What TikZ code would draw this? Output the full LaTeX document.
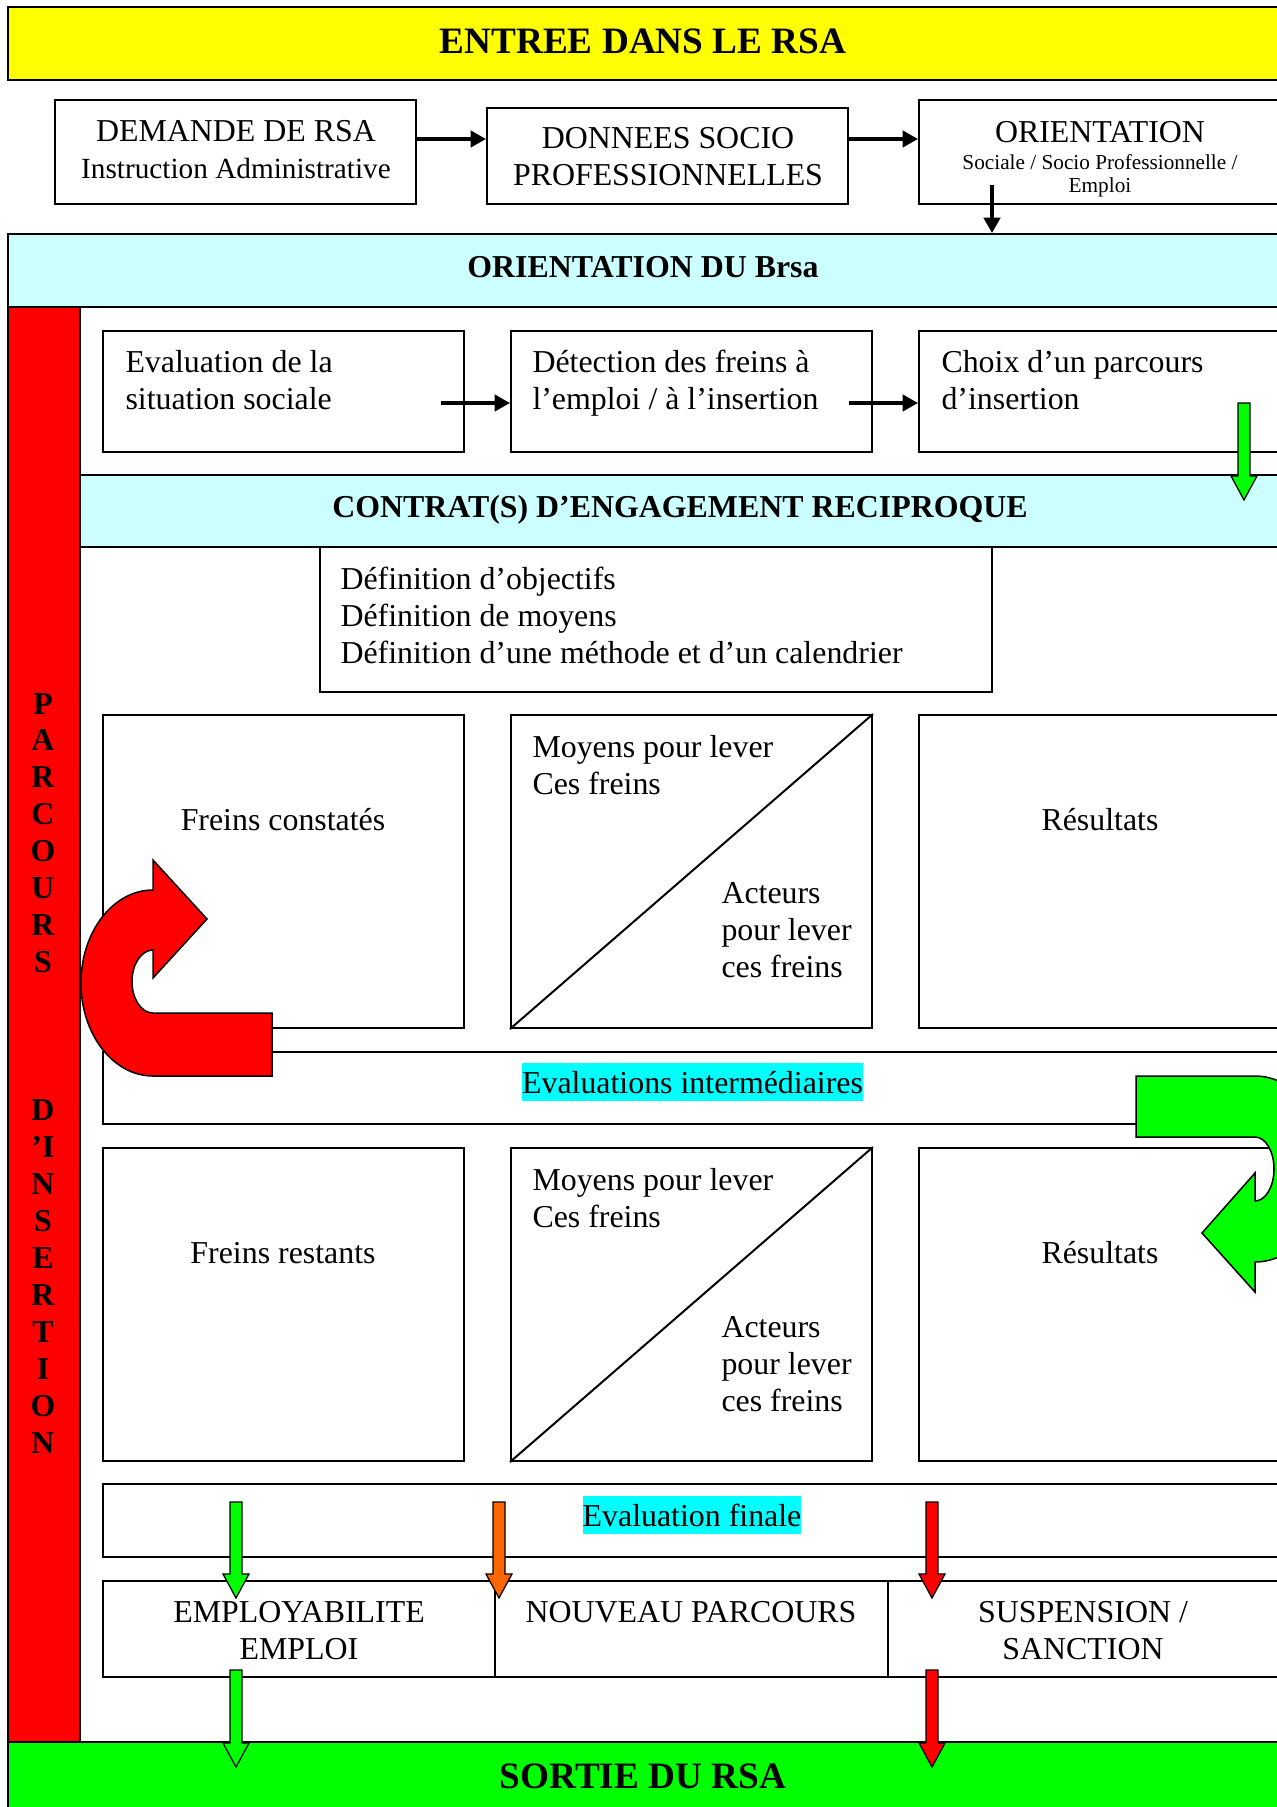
\documentclass[tikz,border=0pt]{standalone}
\usepackage{fontspec}
\setmainfont{Liberation Serif}
\usetikzlibrary{fit,calc,arrows.meta}
\definecolor{ylw}{RGB}{255,255,0}
\definecolor{lcyan}{RGB}{204,255,255}
\definecolor{hlc}{RGB}{0,255,255}
\definecolor{rd}{RGB}{255,0,0}
\definecolor{gr}{RGB}{0,255,0}
\definecolor{org}{RGB}{255,102,0}
\newcommand\dnarrow[4]{%
  \filldraw[fill=#4, draw=black, line width=0.5pt]
    (#1-6,#2) -- (#1+6,#2) -- (#1+6,#3-24) -- (#1+13,#3-24) -- (#1,#3)
    -- (#1-13,#3-24) -- (#1-6,#3-24) -- cycle;}
\tikzset{
  box/.style={draw=black, line width=0.8pt, inner sep=0pt, fill=white},
  band/.style={draw=black, line width=0.8pt, inner sep=0pt},
  t/.style={inner sep=0pt, font=\fontsize{12.75pt}{14.8pt}\selectfont},
  tb/.style={inner sep=0pt, font=\fontsize{12.75pt}{14.8pt}\selectfont\bfseries},
  tbig/.style={inner sep=0pt, font=\fontsize{14.9pt}{17pt}\selectfont\bfseries},
  hl/.style={t, fill=hlc, text height=12pt, text depth=3.2pt},
  blk/.style={line width=1.4pt, -{Triangle[length=6.2pt, width=6.6pt]}},
  diag/.style={line width=0.8pt},
  uarrow/.style={draw=black, line width=0.6pt},
}
\begin{document}
\begin{tikzpicture}[x=0.4pt,y=-0.4pt]
\useasboundingbox (0,0) rectangle (1277,1807);
\clip (0,0) rectangle (1277,1807);
\fill[white] (0,0) rectangle (1277,1807);

% top bar
\node[band, fill=ylw, fit={(8,7) (1290,80)}] (entree) {};
\node[tbig, anchor=base] (entreet) at (643,53) {ENTREE DANS LE RSA};

% first row
\node[box, fit={(55,100) (416,204)}] (dem) {};
\node[box, fit={(487,108) (848,204)}] (don) {};
\node[box, fit={(919,100) (1290,204)}] (ori) {};
\node[t, anchor=base, align=center] (demt) at (236,178) {DEMANDE DE RSA\\{\fontsize{11.7pt}{14.8pt}\selectfont Instruction Administrative}};
\node[t, anchor=base, align=center] (dont) at (668,185) {DONNEES SOCIO\\PROFESSIONNELLES};
\node[t, anchor=base] (orit) at (1100,142) {ORIENTATION};
\node[inner sep=0pt, anchor=base, align=center, font=\fontsize{8.5pt}{9.2pt}\selectfont] (oris) at (1100,192) {Sociale / Socio Professionnelle /\\Emploi};
\draw[blk] (dem.east |- 0,139) -- (don.west |- 0,139);
\draw[blk] (don.east |- 0,139) -- (ori.west |- 0,139);

% orientation du Brsa
\node[band, fill=lcyan, fit={(8,234) (1290,307)}] (orbrsa) {};
\node[tb, anchor=base] (orbrsat) at (643,277) {ORIENTATION DU Brsa};
\coordinate (od) at (992,185);
\draw[blk] (od) -- (orbrsa.north -| od);

% red vertical bar
\node[band, fill=rd, fit={(8,307) (80,1742)}] (redbar) {};
\node[inner sep=0pt, anchor=base, align=center, font=\fontsize{12.75pt}{14.78pt}\selectfont\bfseries] (parc) at (43,1453)
  {P\\A\\R\\C\\O\\U\\R\\S\\ \\ \\ \\D\\’I\\N\\S\\E\\R\\T\\I\\O\\N};

% second row
\node[box, fit={(103,331) (464,452)}] (ev) {};
\node[box, fit={(511,331) (872,452)}] (det) {};
\node[box, fit={(919,331) (1290,452)}] (cho) {};
\node[t, anchor=base west, align=left] (evt) at (125,409) {Evaluation de la\\situation sociale};
\node[t, anchor=base west, align=left] (dett) at (532,409) {Détection des freins à\\l’emploi / à l’insertion};
\node[t, anchor=base west, align=left] (chot) at (941,409) {Choix d’un parcours\\d’insertion};
\draw[blk] ($(ev.east |- 0,403)+(-24,0)$) -- (det.west |- 0,403);
\draw[blk] ($(det.east |- 0,403)+(-24,0)$) -- (cho.west |- 0,403);

% contrat
\node[band, fill=lcyan, fit={(80,475) (1290,547)}] (contrat) {};
\node[tb, anchor=base] (contratt) at (680,517) {CONTRAT(S) D’ENGAGEMENT RECIPROQUE};
\dnarrow{1244}{403}{500}{gr}

\node[box, fit={(320,547) (992,692)}] (def) {};
\node[t, anchor=base west, align=left] (deft) at (340,663) {Définition d’objectifs\\Définition de moyens\\Définition d’une méthode et d’un calendrier};

% third row
\node[box, fit={(103,715) (464,1028)}] (fr1) {};
\node[box, fit={(511,715) (872,1028)}] (moy1) {};
\node[box, fit={(919,715) (1290,1028)}] (res1) {};
\draw[diag] (moy1.south west) -- (moy1.north east);
\node[t, anchor=base] (fr1t) at (283,830) {Freins constatés};
\node[t, anchor=base west, align=left] (moy1t) at (532,794) {Moyens pour lever\\Ces freins};
\node[t, anchor=base west, align=left] (act1t) at (721,977) {Acteurs\\pour lever\\ces freins};
\node[t, anchor=base] (res1t) at (1100,830) {Résultats};

% evaluations intermediaires
\node[box, fit={(103,1052) (1290,1124)}] (evi) {};
\node[hl, anchor=base] (evit) at (692.5,1093) {Evaluations intermédiaires};

% fourth row
\node[box, fit={(103,1148) (464,1461)}] (fr2) {};
\node[box, fit={(511,1148) (872,1461)}] (moy2) {};
\node[box, fit={(919,1148) (1290,1461)}] (res2) {};
\draw[diag] (moy2.south west) -- (moy2.north east);
\node[t, anchor=base] (fr2t) at (283,1263) {Freins restants};
\node[t, anchor=base west, align=left] (moy2t) at (532,1227) {Moyens pour lever\\Ces freins};
\node[t, anchor=base west, align=left] (act2t) at (721,1411) {Acteurs\\pour lever\\ces freins};
\node[t, anchor=base] (res2t) at (1100,1263) {Résultats};

% U-turn arrows
\filldraw[fill=rd, uarrow] (272,1076) -- (153,1076)
  arc[start angle=90, end angle=270, x radius=72, y radius=93]
  -- (153,860) -- (207,919) -- (153,978) -- (153,950)
  arc[start angle=270, end angle=90, x radius=21, y radius=31.5]
  -- (272,1013) -- cycle;
\filldraw[fill=gr, uarrow] (1136,1076) -- (1255,1076)
  arc[start angle=-90, end angle=90, x radius=72, y radius=93]
  -- (1255,1292) -- (1202,1233) -- (1255,1173) -- (1255,1201)
  arc[start angle=90, end angle=-90, x radius=19, y radius=32]
  -- (1136,1137) -- cycle;

% evaluation finale
\node[box, fit={(103,1484) (1290,1557)}] (evf) {};
\node[hl, anchor=base] (evft) at (692,1526) {Evaluation finale};

% outcomes
\node[box, fit={(103,1581) (495,1677)}] (emp) {};
\node[box, fit={(495,1581) (888,1677)}] (nouv) {};
\node[box, fit={(888,1581) (1290,1677)}] (susp) {};
\node[t, anchor=base, align=center] (empt) at (299,1659) {EMPLOYABILITE\\EMPLOI};
\node[t, anchor=base] (nouvt) at (691,1622) {NOUVEAU PARCOURS};
\node[t, anchor=base, align=center] (suspt) at (1083,1659) {SUSPENSION /\\SANCTION};

% sortie
\node[band, fill=gr, fit={(8,1742) (1290,1820)}] (sortie) {};
\node[tbig, anchor=base] (sortiet) at (643,1788) {SORTIE DU RSA};

% block arrows
\dnarrow{236}{1502}{1598}{gr}
\dnarrow{499}{1502}{1598}{org}
\dnarrow{932}{1502}{1598}{rd}
\dnarrow{236}{1670}{1767}{gr}
\dnarrow{932}{1670}{1767}{rd}
\end{tikzpicture}
\end{document}
